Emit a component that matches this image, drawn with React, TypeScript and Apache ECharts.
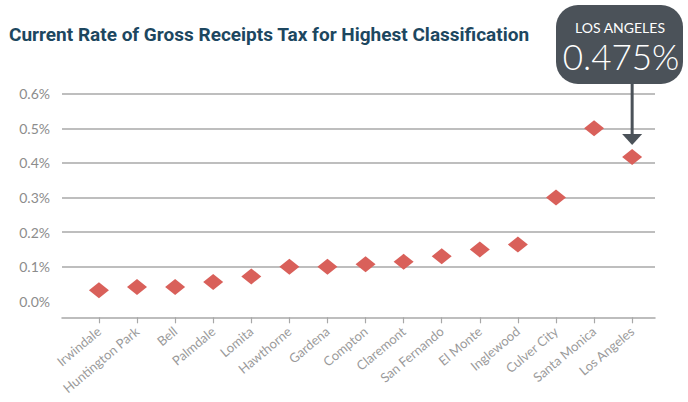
import React, { useEffect, useRef } from "react";
import * as echarts from "echarts";

const cities = [
  "Irwindale", "Huntington Park", "Bell", "Palmdale", "Lomita", "Hawthorne", "Gardena",
  "Compton", "Claremont", "San Fernando", "El Monte", "Inglewood", "Culver City",
  "Santa Monica", "Los Angeles",
];
const rates = [0.032, 0.041, 0.041, 0.056, 0.072, 0.1, 0.1, 0.107, 0.114, 0.13, 0.15, 0.164, 0.3, 0.5, 0.417];
const yTicks = [0, 0.1, 0.2, 0.3, 0.4, 0.5, 0.6];
const titleText = "Current Rate of Gross Receipts Tax for Highest Classification";
const calloutCity = "LOS ANGELES";
const calloutValue = "0.475%";

export default function App() {
  const ref = useRef<HTMLDivElement>(null);
  useEffect(() => {
    document.body.style.margin = "0";
    const chart = echarts.init(ref.current!, null, { renderer: "svg" });
    const idx = cities.map((_, i) => i);
    chart.setOption({
      animation: false,
      backgroundColor: "#ffffff",
      grid: { left: 62, right: 33, top: 93.7, bottom: 100.7 },
      xAxis: {
        type: "value",
        min: -0.97,
        max: 14.6,
        offset: 16,
        splitLine: { show: false },
        axisLine: { show: true, onZero: false, lineStyle: { color: "#a8a8a8", width: 1.5 } },
        axisTick: { show: true, customValues: idx, length: 6, inside: false, lineStyle: { color: "#a8a8a8", width: 1.2 } },
        axisLabel: {
          customValues: idx,
          formatter: (v: number) => cities[Math.round(v)] ?? "",
          rotate: 40,
          margin: 12,
          color: "#9a9a9a",
          fontFamily: "Lato",
          fontSize: 13,
        },
      },
      yAxis: {
        type: "value",
        min: 0,
        max: 0.6,
        interval: 0.1,
        axisLine: { show: false },
        axisTick: { show: false },
        splitLine: { show: true, showMinLine: false, lineStyle: { color: "#a8a8a8", width: 1.5 } },
        axisLabel: {
          formatter: (v: number) => (yTicks.some((t) => Math.abs(t - v) < 1e-9) ? v.toFixed(1) + "%" : ""),
          margin: 12,
          color: "#8c8c8c",
          fontFamily: "Lato",
          fontSize: 14,
        },
      },
      series: [
        {
          type: "scatter",
          symbol: "diamond",
          symbolSize: [20, 16],
          itemStyle: { color: "#d9605a", opacity: 1 },
          data: rates.map((v, i) => [i, v]),
        },
      ],
    });
    const last = cities.length - 1;
    const p = chart.convertToPixel({ gridIndex: 0 }, [last, rates[last]]) as number[];
    const ax = p ? p[0] : 632;
    chart.setOption({
      graphic: [
        {
          type: "text",
          x: 9,
          y: 34,
          scaleX: 1,
          style: {
            text: titleText,
            fill: "#1d4760",
            font: "bold 19px Roboto",
            align: "left",
            verticalAlign: "middle",
          },
        },
        { type: "rect", shape: { x: 556, y: 5, width: 127, height: 79, r: 22 }, style: { fill: "#4b5259" } },
        {
          type: "text",
          x: 620,
          y: 27,
          style: { text: calloutCity, fill: "#ffffff", font: "14px Lato", align: "center", verticalAlign: "middle" },
        },
        {
          type: "text",
          x: 621,
          y: 56,
          style: { text: calloutValue, fill: "#ffffff", font: "300 35px Lato", align: "center", verticalAlign: "middle" },
        },
        { type: "line", shape: { x1: ax, y1: 84, x2: ax, y2: 136 }, style: { stroke: "#4b5259", lineWidth: 3 } },
        { type: "polygon", shape: { points: [[ax - 10, 134], [ax + 10, 134], [ax, 145]] }, style: { fill: "#4b5259" } },
      ],
    });
    return () => chart.dispose();
  }, []);
  return <div ref={ref} style={{ width: 688, height: 402 }} />;
}
